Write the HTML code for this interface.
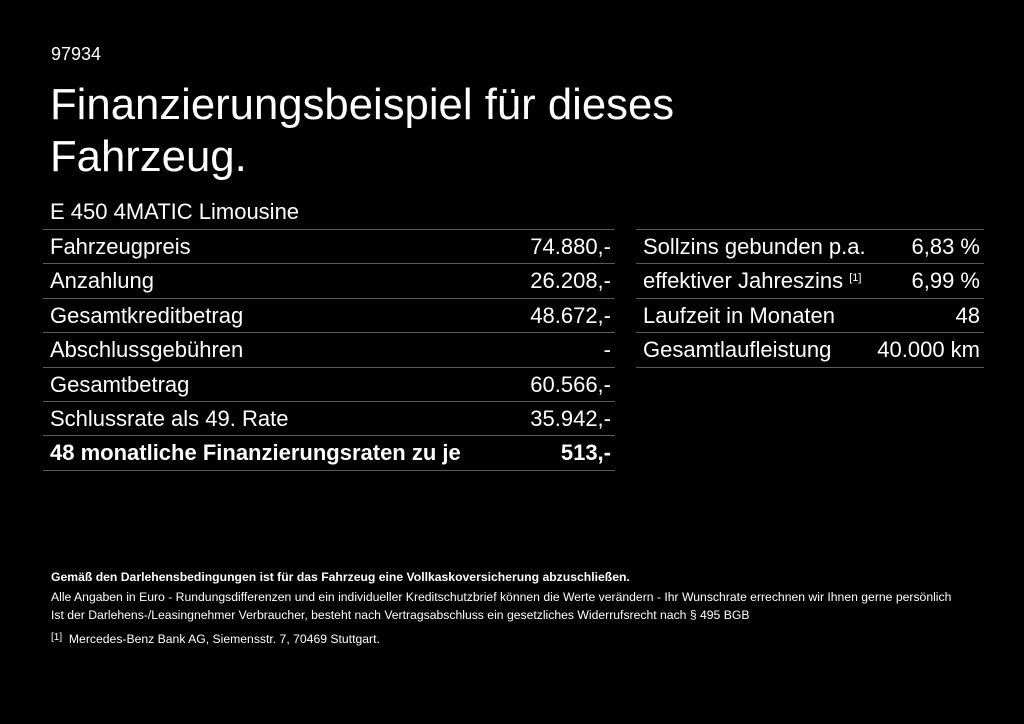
<!DOCTYPE html>
<html><head><meta charset="utf-8"><style>
body{margin:0;width:1024px;height:724px;background:#000;color:#fff;font-family:"Liberation Sans",sans-serif;position:relative;overflow:hidden}
.a{position:absolute;white-space:nowrap}
.row{position:absolute;height:34px;border-top:1px solid #5a5a5a;font-size:22px;line-height:34px}
.row>span{position:absolute;top:0;white-space:nowrap}
.l{left:7px}.r{right:4px}
.f{font-size:12.2px}
.sp{font-size:11px;position:relative;top:-7px}
</style></head><body>
<div class="a" style="left:51px;top:44px;font-size:18px">97934</div>
<div class="a" style="left:50px;top:79px;font-size:43.7px;line-height:52px">Finanzierungsbeispiel für dieses<br>Fahrzeug.</div>
<div class="a" style="left:50px;top:199px;font-size:22px">E 450 4MATIC Limousine</div>

<div class="row" style="left:43px;width:572px;top:229px"><span class="l">Fahrzeugpreis</span><span class="r">74.880,-</span></div>
<div class="row" style="left:43px;width:572px;top:263px"><span class="l">Anzahlung</span><span class="r">26.208,-</span></div>
<div class="row" style="left:43px;width:572px;top:298px"><span class="l">Gesamtkreditbetrag</span><span class="r">48.672,-</span></div>
<div class="row" style="left:43px;width:572px;top:332px"><span class="l">Abschlussgebühren</span><span class="r">-</span></div>
<div class="row" style="left:43px;width:572px;top:367px"><span class="l">Gesamtbetrag</span><span class="r">60.566,-</span></div>
<div class="row" style="left:43px;width:572px;top:401px"><span class="l">Schlussrate als 49. Rate</span><span class="r">35.942,-</span></div>
<div class="row" style="left:43px;width:572px;top:435px;font-weight:bold;border-bottom:1px solid #5a5a5a"><span class="l">48 monatliche Finanzierungsraten zu je</span><span class="r">513,-</span></div>

<div class="row" style="left:636px;width:348px;top:229px"><span class="l">Sollzins gebunden p.a.</span><span class="r">6,83 %</span></div>
<div class="row" style="left:636px;width:348px;top:263px"><span class="l">effektiver Jahreszins <span class="sp">[1]</span></span><span class="r">6,99 %</span></div>
<div class="row" style="left:636px;width:348px;top:298px"><span class="l">Laufzeit in Monaten</span><span class="r">48</span></div>
<div class="row" style="left:636px;width:348px;top:332px;border-bottom:1px solid #5a5a5a"><span class="l">Gesamtlaufleistung</span><span class="r">40.000 km</span></div>

<div class="a f" style="left:51px;top:570px;font-weight:bold">Gemäß den Darlehensbedingungen ist für das Fahrzeug eine Vollkaskoversicherung abzuschließen.</div>
<div class="a f" style="left:51px;top:590px">Alle Angaben in Euro - Rundungsdifferenzen und ein individueller Kreditschutzbrief können die Werte verändern - Ihr Wunschrate errechnen wir Ihnen gerne persönlich</div>
<div class="a f" style="left:51px;top:608px">Ist der Darlehens-/Leasingnehmer Verbraucher, besteht nach Vertragsabschluss ein gesetzliches Widerrufsrecht nach § 495 BGB</div>
<div class="a f" style="left:51px;top:632px"><span style="font-size:10px;vertical-align:3px">[1]</span>&nbsp; Mercedes-Benz Bank AG, Siemensstr. 7, 70469 Stuttgart.</div>
</body></html>
